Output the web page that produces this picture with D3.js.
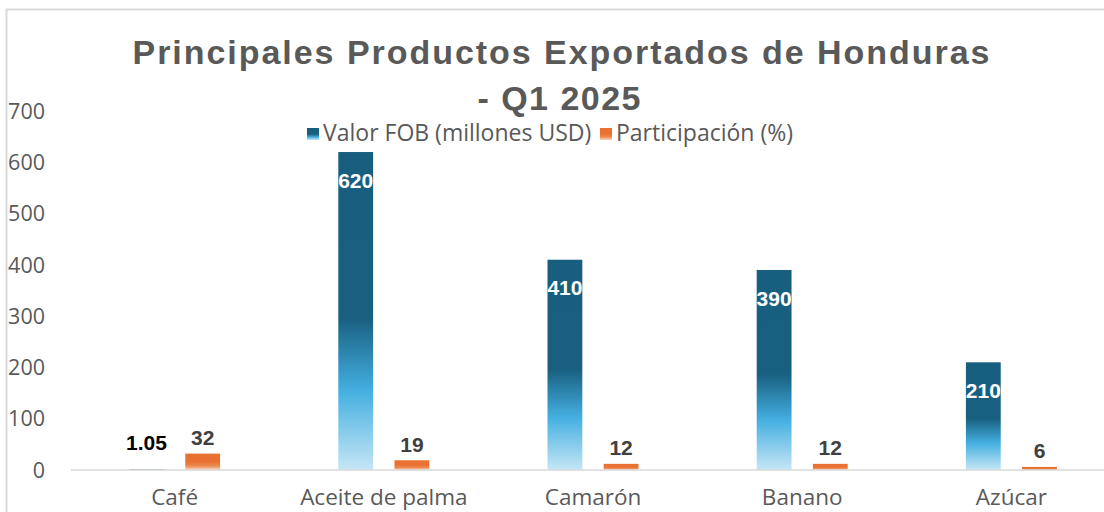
<!DOCTYPE html>
<html>
<head>
<meta charset="utf-8">
<script src="https://cdn.jsdelivr.net/npm/d3@7"></script>
<style>
  body { margin: 0; background: #fff; overflow: hidden; }
  svg { display: block; }
</style>
</head>
<body>
<div id="chart"></div>
<script>
// chart data
const categories = ["Café", "Aceite de palma", "Camarón", "Banano", "Azúcar"];
const seriesNames = ["Valor FOB (millones USD)", "Participación (%)"];
const valorFOB = [1.05, 620, 410, 390, 210];
const participacion = [32, 19, 12, 12, 6];
const yTicks = [0, 100, 200, 300, 400, 500, 600, 700];

const width = 1104, height = 512;
const margin = { top: 111, right: -12, bottom: 42, left: 70 };
const labelFont = "'Open Sans', sans-serif";

const svg = d3.select("#chart")
  .append("svg")
  .attr("width", width)
  .attr("height", height);

const defs = svg.append("defs");

// blue gradient: dark top half, fading to pale at the bottom
const blueGrad = defs.append("linearGradient")
  .attr("id", "blueGrad")
  .attr("x1", 0).attr("y1", 0).attr("x2", 0).attr("y2", 1);
[[0, "#175e7f"], [0.52, "#185f80"], [0.75, "#44afe0"], [1, "#c6e6f6"]]
  .forEach(s => blueGrad.append("stop").attr("offset", s[0]).attr("stop-color", s[1]));

const orangeGrad = defs.append("linearGradient")
  .attr("id", "orangeGrad")
  .attr("x1", 0).attr("y1", 0).attr("x2", 0).attr("y2", 1);
[[0, "#e97132"], [0.5, "#e97132"], [0.75, "#ee8a52"], [1, "#fbd9c4"]]
  .forEach(s => orangeGrad.append("stop").attr("offset", s[0]).attr("stop-color", s[1]));

const fills = ["url(#blueGrad)", "url(#orangeGrad)"];

// chart border
svg.append("rect")
  .attr("x", 6.5).attr("y", 9.5)
  .attr("width", width + 10).attr("height", height + 10)
  .attr("fill", "none")
  .attr("stroke", "#d9d9d9")
  .attr("stroke-width", 2);

const x0 = d3.scaleBand()
  .domain(categories)
  .range([margin.left, width - margin.right]);

const x1 = d3.scaleBand()
  .domain(seriesNames)
  .range([x0.bandwidth() / 2 - 45.5, x0.bandwidth() / 2 + 45.5])
  .paddingInner(0.38);

const y = d3.scaleLinear()
  .domain([0, 700])
  .range([height - margin.bottom, margin.top]);

// title
const title = svg.append("g")
  .attr("fill", "#595959")
  .attr("font-family", "'Liberation Sans', Arial, sans-serif")
  .attr("font-weight", "bold")
  .attr("font-size", 34)
  .attr("text-anchor", "middle");
title.append("text")
  .attr("x", 561).attr("y", 64)
  .attr("textLength", 857)
  .attr("lengthAdjust", "spacing")
  .text("Principales Productos Exportados de Honduras");
title.append("text")
  .attr("x", 559).attr("y", 110)
  .attr("textLength", 163)
  .attr("lengthAdjust", "spacing")
  .text("- Q1 2025");

// y axis labels (no axis line)
svg.append("g")
  .selectAll("text")
  .data(yTicks)
  .join("text")
  .attr("x", 45)
  .attr("y", d => y(d))
  .attr("dy", "0.36em")
  .attr("text-anchor", "end")
  .attr("font-family", labelFont)
  .attr("font-size", 21.5)
  .attr("fill", "#595959")
  .text(d => d);

// x axis labels
svg.append("g")
  .selectAll("text")
  .data(categories)
  .join("text")
  .attr("x", d => x0(d) + x0.bandwidth() / 2)
  .attr("y", 505)
  .attr("text-anchor", "middle")
  .attr("font-family", labelFont)
  .attr("font-size", 22.5)
  .attr("fill", "#595959")
  .text(d => d);

// bars
const rows = categories.map((c, i) => ({
  cat: c,
  values: [valorFOB[i], participacion[i]]
}));

const groups = svg.append("g")
  .selectAll("g")
  .data(rows)
  .join("g")
  .attr("transform", d => `translate(${x0(d.cat)},0)`);

groups.selectAll("rect")
  .data(d => d.values.map((v, j) => ({ series: seriesNames[j], v, j })))
  .join("rect")
  .attr("x", d => x1(d.series))
  .attr("width", x1.bandwidth())
  .attr("y", d => y(d.v))
  .attr("height", d => y(0) - y(d.v))
  .attr("fill", d => fills[d.j]);

// baseline, drawn over the bar feet
svg.append("line")
  .attr("x1", margin.left + 1).attr("x2", width)
  .attr("y1", y(0)).attr("y2", y(0))
  .attr("stroke", "#d9d9d9")
  .attr("stroke-width", 1.5);

// data labels
groups.selectAll("text")
  .data(d => d.values.map((v, j) => ({ series: seriesNames[j], v, j })))
  .join("text")
  .attr("x", d => x1(d.series) + x1.bandwidth() / 2)
  .attr("y", d => {
    if (d.j === 0 && d.v > 50) return y(d.v) + 28;
    if (d.j === 0) return y(d.v) - 27;
    return y(d.v) - 16;
  })
  .attr("dy", "0.36em")
  .attr("text-anchor", "middle")
  .attr("font-family", "'Liberation Sans', Arial, sans-serif")
  .attr("font-weight", "bold")
  .attr("font-size", 21)
  .attr("fill", d => d.j === 0 ? (d.v > 50 ? "#ffffff" : "#000000") : "#404040")
  .text(d => d.v);

// legend
const legend = svg.append("g")
  .attr("font-family", labelFont)
  .attr("font-size", 23)
  .attr("fill", "#595959");
const legendX = [307, 600];
seriesNames.forEach((s, i) => {
  legend.append("rect")
    .attr("x", legendX[i]).attr("y", 128)
    .attr("width", 12).attr("height", 12)
    .attr("fill", fills[i]);
  legend.append("text")
    .attr("x", legendX[i] + 16).attr("y", 133)
    .attr("dy", "0.36em")
    .text(s);
});
</script>
</body>
</html>
